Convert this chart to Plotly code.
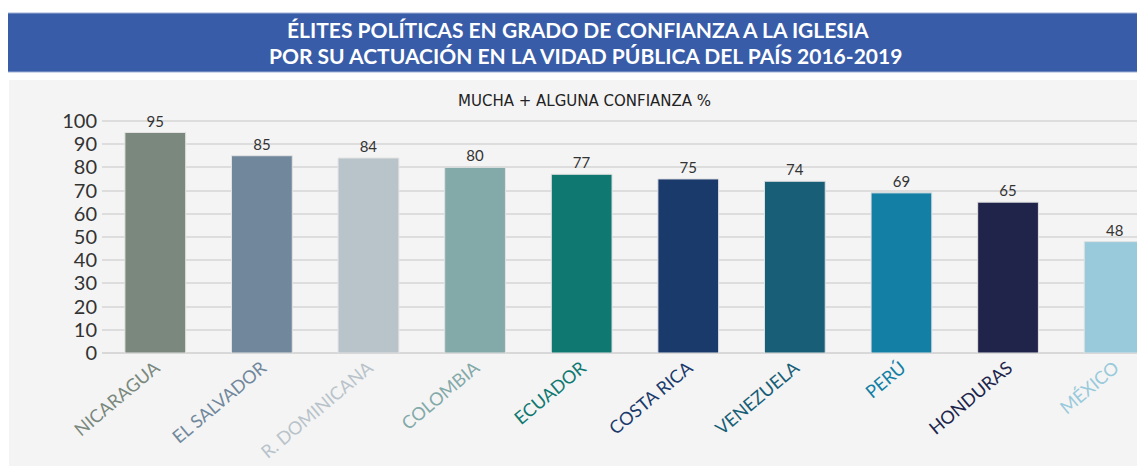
import plotly.graph_objects as go

paises = ["NICARAGUA", "EL SALVADOR", "R. DOMINICANA", "COLOMBIA", "ECUADOR",
          "COSTA RICA", "VENEZUELA", "PERÚ", "HONDURAS", "MÉXICO"]
confianza = [95, 85, 84, 80, 77, 75, 74, 69, 65, 48]
colores = ["#7a887d", "#71889c", "#b8c3ca", "#83a9a8", "#0f7971",
           "#1b3a6c", "#175e76", "#137fa5", "#20244b", "#99cadb"]
y_ticks = list(range(0, 101, 10))

titulo_1 = "ÉLITES POLÍTICAS EN GRADO DE CONFIANZA A LA IGLESIA"
titulo_2 = "POR SU ACTUACIÓN EN LA VIDAD PÚBLICA DEL PAÍS 2016-2019"
subtitulo = "MUCHA + ALGUNA CONFIANZA %"

W, H = 1145, 469
OFF = 8  # margen del body de la página
L, R, T, B = 94, 0, 102, 124
pw, ph = W - L - R, H - T - B


def px(x):
    return (x - OFF - L) / pw


def py(y):
    return (H - B - (y - OFF)) / ph


fig = go.Figure()
fig.add_trace(go.Bar(
    x=list(range(len(paises))), y=confianza,
    marker=dict(color=colores, line=dict(color="#e2e2e2", width=1)),
    text=[str(v) for v in confianza], textposition="outside",
    textfont=dict(family="Lato", size=15, color="#333333"),
    cliponaxis=False, width=0.57,
))

# fondo gris y franja azul del título
fig.add_shape(type="rect", xref="paper", yref="paper", layer="below",
              x0=px(9), x1=px(1170), y0=py(466), y1=py(80),
              fillcolor="#f4f4f4", line=dict(width=0))
fig.add_shape(type="rect", xref="paper", yref="paper", layer="below",
              x0=px(4), x1=px(1170), y0=py(72), y1=py(13),
              fillcolor="#385ca8", line=dict(color="#9fb0d6", width=1))

for txt, yy, xx in [(titulo_1, 30, 578), (titulo_2, 56, 585)]:
    fig.add_annotation(text=txt, xref="paper", yref="paper",
                       x=px(xx), y=py(yy), showarrow=False,
                       font=dict(family="Lato", size=21, color="white", weight="bold"),
                       yanchor="middle")
fig.add_annotation(text=subtitulo, xref="paper", yref="paper",
                   x=px(584), y=py(101), showarrow=False,
                   font=dict(family="DejaVu Sans", size=15, color="#222222"),
                   yanchor="middle")

ticktext = [f'<span style="color:{c}">{p}</span>' for p, c in zip(paises, colores)]

fig.update_layout(
    width=W, height=H, margin=dict(l=L, r=R, t=T, b=B, autoexpand=False),
    paper_bgcolor="white", plot_bgcolor="rgba(0,0,0,0)",
    showlegend=False,
    xaxis=dict(range=[-0.5, 9.36], tickmode="array", automargin=False,
               tickvals=list(range(len(paises))), ticktext=ticktext,
               tickangle=-40, tickfont=dict(family="Lato", size=18),
               showgrid=False, zeroline=False, showline=False),
    yaxis=dict(range=[0, 104.7], tickvals=y_ticks, automargin=False,
               tickfont=dict(family="Lato", size=20, color="#333333"),
               gridcolor="#dddddd", gridwidth=1.5, zeroline=True,
               zerolinecolor="#d8d8d8", zerolinewidth=1.5, ticklabelstandoff=4),
)

fig.write_html("out.html")
